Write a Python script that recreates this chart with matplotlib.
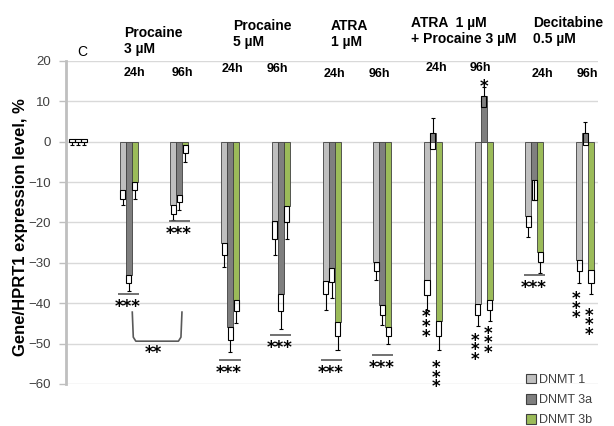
import numpy as np
import matplotlib.pyplot as plt
from matplotlib.patches import Patch

plt.rcParams['font.family'] = ['Liberation Sans', 'DejaVu Sans']

# categories: control + 5 treatments x 2 time points
groups = ['C', 'P3 24h', 'P3 96h', 'P5 24h', 'P5 96h', 'ATRA 24h', 'ATRA 96h',
          'ATRA+P 24h', 'ATRA+P 96h', 'Dec 24h', 'Dec 96h']
series = ['DNMT 1', 'DNMT 3a', 'DNMT 3b']

# bar values (%), end of the hollow box, end of the thin whisker
dnmt1_val = [0, -12.0, -15.7, -25.0, -19.7, -34.5, -29.8, -34.3, -40.3, -18.4, -29.2]
dnmt1_box = [0.7, -14.1, -17.9, -28.1, -24.0, -37.8, -32.0, -38.0, -43.0, -21.1, -32.0]
dnmt1_err = [-0.7, -15.7, -19.4, -31.0, -28.1, -41.6, -34.3, -41.6, -45.6, -23.6, -34.9]

dnmt3a_val = [0, -33.1, -13.1, -46.0, -37.6, -31.4, -40.5, 2.05, 11.3, -9.5, 2.05]
dnmt3a_box = [0.7, -35.0, -14.9, -49.0, -41.9, -34.7, -43.0, -1.7, 8.5, -14.5, -0.7]
dnmt3a_err = [-0.7, -37.0, -17.0, -52.1, -46.3, -38.6, -45.4, 5.8, 13.6, -14.5, 4.9]

dnmt3b_val = [0, -9.9, -0.9, -39.1, -15.9, -44.6, -45.9, -44.5, -39.1, -27.3, -31.8]
dnmt3b_box = [0.7, -12.0, -2.9, -41.9, -20.0, -48.1, -48.1, -48.2, -41.7, -29.9, -34.9]
dnmt3b_err = [-0.7, -14.1, -5.0, -44.9, -24.1, -51.5, -50.2, -51.5, -44.4, -32.6, -37.8]

# treatment headers
headers = ['Procaine\n3 µM', 'Procaine\n5 µM', 'ATRA\n1 µM',
           'ATRA  1 µM\n+ Procaine 3 µM', 'Decitabine\n0.5 µM']
times = ['24h', '96h'] * 5

colors = ['#bfbfbf', '#7f7f7f', '#9bbb59']

fig = plt.figure(figsize=(6.14, 4.26), dpi=100)
ax = fig.add_axes([0.1075, 0.0986, 0.974 - 0.1075, 0.857 - 0.0986])

x = np.arange(len(groups))
w = 0.118
offs = [-w, 0, w]
vals = [dnmt1_val, dnmt3a_val, dnmt3b_val]
boxes = [dnmt1_box, dnmt3a_box, dnmt3b_box]
errs = [dnmt1_err, dnmt3a_err, dnmt3b_err]

for k in range(3):
    v = np.array(vals[k])
    b = np.array(boxes[k])
    e = np.array(errs[k])
    xs = x + offs[k]
    ax.bar(xs, v, width=w, color=colors[k], edgecolor='#404040', linewidth=0.6,
           label=series[k], zorder=2)
    ax.bar(xs, b - v, bottom=v, width=w * 0.85, fill=False, edgecolor='black',
           linewidth=0.8, zorder=3)
    for xi, vi, bi, ei in zip(xs, v, b, e):
        start = vi
        if (ei - vi) * (bi - vi) > 0 and abs(bi - vi) < abs(ei - vi):
            start = bi
        if abs(ei - start) < 0.01:
            continue
        ax.vlines(xi, start, ei, color='black', linewidth=0.8, zorder=3)
        ax.hlines(ei, xi - 0.04, xi + 0.04, color='black', linewidth=0.8, zorder=3)

ax.set_xlim(-0.237, 10.256)
ax.set_ylim(-60, 20)
ax.set_yticks(np.arange(-60, 21, 10))
ax.set_xticks([])
ax.grid(axis='y', color='#d9d9d9', linewidth=1, zorder=0)
ax.set_axisbelow(True)
for s in ['top', 'right', 'bottom']:
    ax.spines[s].set_visible(False)
ax.spines['left'].set_color('#bfbfbf')
ax.spines['left'].set_linewidth(2)
ax.tick_params(axis='y', colors='#bfbfbf', labelcolor='#404040', labelsize=9.5,
               length=5, width=1, pad=6)
ax.set_ylabel('Gene/HPRT1 expression level, %', fontsize=12, fontweight='bold')
ax.yaxis.set_label_coords(-0.072, 0.485)

# header labels above the plot
ax.text(0.09, 22.3, 'C', ha='center', va='center', fontsize=10, clip_on=False)
hdr_pos = [(0.907, 25.0), (3.06, 26.6), (4.99, 26.6), (6.57, 27.5), (8.97, 27.5)]
for (hx, hy), h in zip(hdr_pos, headers):
    ax.text(hx, hy, h, ha='left', va='center', fontsize=10, fontweight='bold',
            linespacing=1.2, clip_on=False)

time_pos = [(1.12, 17.0), (2.05, 17.0), (3.04, 18.0), (3.94, 18.0), (5.05, 16.8),
            (5.94, 16.8), (7.07, 18.2), (7.93, 18.2), (9.15, 16.7), (10.04, 16.7)]
for (tx, ty), t in zip(time_pos, times):
    ax.text(tx, ty, t, ha='center', va='center', fontsize=9, fontweight='bold')

# significance marks
star = dict(ha='center', va='center', fontsize=12, family='DejaVu Sans',
            fontweight='bold', zorder=4, clip_on=False)
sig = [(1, -37.8), (2, -19.7), (3, -54.1), (4, -47.8), (5, -54.1), (6, -52.8), (9, -33.1)]
for gi, ly in sig:
    ax.hlines(ly, gi - 0.21, gi + 0.21, color='#595959', linewidth=1.2, zorder=4)
    ax.text(gi - 0.02, ly - 3.2, '***', **star)

# vertical stacks of three stars
vstars = [(6.86, -45.0), (7.07, -57.5), (7.83, -50.8), (8.08, -49.0),
          (9.82, -40.5), (10.08, -44.6)]
for sx, sy in vstars:
    ax.text(sx, sy - 0.9, '*\n*\n*', linespacing=0.4, **star)
ax.text(8.0, 13.6, '*', **star)

# bracket between Procaine 3 µM 24h and 96h
bx = [1.07, 1.09, 1.14, 1.98, 2.03, 2.05]
by = [-42.2, -48.4, -49.4, -49.4, -48.4, -42.2]
ax.plot(bx, by, color='#595959', linewidth=1.2, zorder=4)
ax.text(1.48, -52.3, '**', **star)

handles = [Patch(facecolor=c, edgecolor='#404040', linewidth=0.8) for c in colors]
fig.legend(handles, series, loc='center left', bbox_to_anchor=(0.846, 0.061),
           frameon=False, fontsize=9, handlelength=0.8, handleheight=0.8,
           handletextpad=0.3, labelspacing=0.65, borderpad=0, labelcolor='#404040')

fig.savefig('out.png', dpi=100)
